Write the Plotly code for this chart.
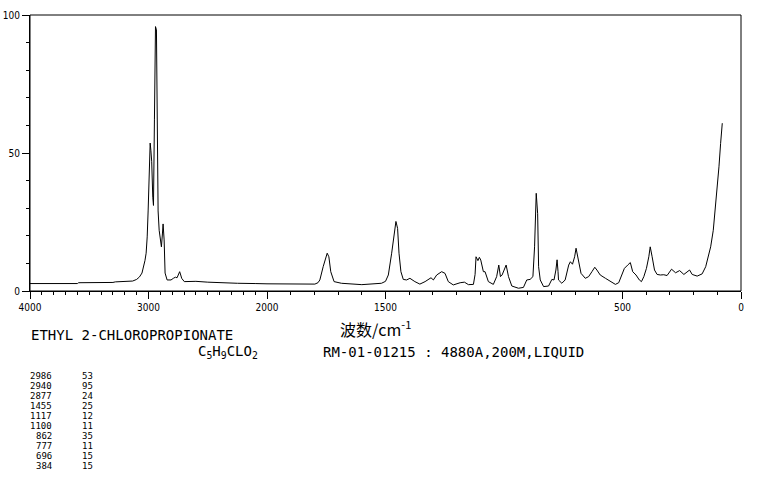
import plotly.graph_objects as go

# Raman spectrum
wavenumber = [4000, 3800, 3600, 3590, 3450, 3300, 3280, 3200, 3134, 3100, 3076, 3055, 3040, 3030,
              3020, 3011, 3003, 2995, 2986, 2980, 2973, 2964, 2958, 2950, 2941, 2933, 2927, 2919,
              2910, 2902, 2891, 2882, 2877, 2868, 2860, 2843, 2810, 2790, 2773, 2759, 2745, 2737,
              2728, 2720, 2698, 2600, 2500, 2400, 2250, 2100, 2000, 1900, 1820, 1798, 1785, 1777,
              1763, 1752, 1746, 1739, 1731, 1717, 1686, 1600, 1540, 1517, 1500, 1488, 1474, 1464,
              1456, 1449, 1443, 1435, 1425, 1411, 1397, 1376, 1355, 1333, 1308, 1298, 1284, 1263,
              1249, 1235, 1214, 1185, 1167, 1150, 1129, 1122, 1118, 1110, 1104, 1098, 1087, 1080,
              1066, 1045, 1031, 1022, 1015, 1008, 995, 991, 981, 967, 939, 918, 904, 890, 878, 871,
              864, 858, 854, 847, 833, 812, 798, 789, 781, 776, 772, 770, 756, 742, 727, 720, 711,
              702, 696, 685, 675, 657, 643, 629, 617, 608, 594, 572, 551, 530, 516, 502, 492, 478,
              467, 457, 443, 429, 420, 410, 399, 389, 383, 375, 365, 354, 340, 326, 312, 293, 276,
              259, 241, 217, 206, 185, 164, 149, 138, 128, 117, 107, 99, 93, 86, 79]
intensity = [2.7, 2.7, 2.7, 3.0, 3.0, 3.1, 3.3, 3.4, 3.6, 4.2, 5.1, 6.5, 8.7, 11.0,
             13.7, 19.6, 29.0, 40.0, 53.6, 51.0, 47.0, 34.0, 31.0, 62.0, 95.8, 94.6, 56.0, 29.0,
             22.0, 18.5, 16.0, 21.0, 24.3, 18.5, 6.5, 4.0, 4.0, 4.6, 5.0, 4.8, 6.0, 7.0,
             5.8, 4.6, 3.4, 3.5, 3.2, 3.0, 2.8, 2.7, 2.6, 2.5, 2.4, 2.5, 3.0, 4.0,
             8.8, 12.5, 13.7, 12.4, 7.0, 3.4, 2.8, 2.3, 2.5, 2.8, 3.5, 5.8, 13.7, 21.0,
             25.2, 22.7, 13.7, 7.0, 4.2, 4.0, 4.6, 3.4, 2.5, 3.4, 4.8, 4.0, 5.8, 7.0,
             6.4, 3.4, 2.2, 3.0, 3.2, 2.3, 2.4, 6.0, 12.4, 11.0, 12.2, 11.2, 7.0, 7.0,
             3.4, 2.4, 5.2, 9.4, 5.2, 5.8, 9.2, 9.4, 5.2, 1.8, 1.0, 1.3, 4.0, 4.2, 5.2, 16.0,
             35.4, 28.0, 8.8, 4.0, 1.6, 1.8, 4.2, 4.0, 7.6, 11.3, 7.0, 4.0, 2.8, 4.0, 9.4, 10.6, 9.7,
             12.4, 15.5, 10.6, 6.4, 4.6, 5.2, 7.0, 8.6, 7.6, 5.8, 4.6, 3.4, 2.4, 3.0, 5.8, 8.2, 9.4,
             10.3, 7.0, 5.8, 4.0, 3.4, 5.2, 8.2, 12.4, 16.0, 12.4, 7.6, 6.0, 5.8, 5.9, 5.6, 7.9, 6.6,
             7.4, 6.0, 7.6, 6.0, 5.4, 6.2, 8.8, 12.4, 16.0, 22.0, 30.5, 39.0, 45.0, 53.5, 60.8]

peak_wn = ['2986', '2940', '2877', '1455', '1117', '1100', '862', '777', '696', '384']
peak_int = ['53', '95', '24', '25', '12', '11', '35', '11', '15', '15']

left_ticks = [4000, 3000]
right_ticks = [2000, 1500, 500, 0]

TICK_FONT = dict(family='Liberation Sans Narrow, DejaVu Sans Condensed, DejaVu Sans Mono', size=10, color='black')
MONO = 'DejaVu Sans Mono'
SPLIT = 1 / 3  # 4000-2000 is drawn at half the scale of 2000-0

fig = go.Figure()

hi = [(w, v) for w, v in zip(wavenumber, intensity) if w >= 2000]
lo = [(w, v) for w, v in zip(wavenumber, intensity) if w <= 2000]
for xa, part in (('x', hi), ('x2', lo)):
    fig.add_trace(go.Scatter(x=[p[0] for p in part], y=[p[1] for p in part], mode='lines',
                             xaxis=xa, yaxis='y', line=dict(color='black', width=1),
                             showlegend=False, hoverinfo='skip'))

# empty traces so the overlay axes (long labelled ticks) get drawn
fig.add_trace(go.Scatter(x=[], y=[], xaxis='x3', yaxis='y', showlegend=False))
fig.add_trace(go.Scatter(x=[], y=[], xaxis='x4', yaxis='y', showlegend=False))

# short ticks every 100 cm-1
base = dict(showgrid=False, zeroline=False, showline=True, linecolor='black', linewidth=1,
            ticks='outside', ticklen=3, tickcolor='black', tickmode='linear', tick0=0, dtick=100,
            showticklabels=False, automargin=False, anchor='y')
# long labelled ticks
over = dict(showgrid=False, zeroline=False, showline=False, ticks='outside', ticklen=7,
            tickcolor='black', tickmode='array', tickfont=TICK_FONT, automargin=False,
            anchor='y', side='bottom')

fig.update_layout(
    xaxis=dict(range=[4000, 2000], domain=[0, SPLIT], **base),
    xaxis2=dict(range=[2000, 0], domain=[SPLIT, 1], **base),
    xaxis3=dict(overlaying='x', range=[4000, 2000], domain=[0, SPLIT], tickvals=left_ticks,
                ticktext=[str(t) for t in left_ticks], **over),
    xaxis4=dict(overlaying='x2', range=[2000, 0], domain=[SPLIT, 1], tickvals=right_ticks,
                ticktext=[str(t) for t in right_ticks], **over),
    yaxis=dict(range=[0, 100], tickmode='linear', tick0=0, dtick=50, showgrid=False,
               zeroline=False, showline=True, linecolor='black', ticks='outside', ticklen=7,
               tickcolor='black', tickfont=TICK_FONT, automargin=False, anchor='x',
               minor=dict(ticks='outside', ticklen=3, tickcolor='black', dtick=10,
                          showgrid=False)),
)

fig.add_shape(type='rect', xref='paper', yref='paper', x0=0, x1=1, y0=0, y1=1,
              line=dict(color='black', width=1))


def py(ypx):
    # page row -> paper y for a plot spanning rows 15..291
    return (291 - ypx) / 276


def px_(xpx):
    return (xpx - 30) / 711


ann = [
    dict(text='波数/cm<sup>-1</sup>', x=px_(375), y=py(328), xanchor='center', yanchor='middle',
         font=dict(family='Noto Sans CJK SC', size=16, color='black')),
    dict(text='ETHYL 2-CHLOROPROPIONATE', x=px_(29), y=py(335), xanchor='left', yanchor='middle',
         font=dict(family=MONO, size=14, color='black')),
    dict(text='C<sub>5</sub>H<sub>9</sub>CLO<sub>2</sub>', x=px_(196), y=py(352), xanchor='left',
         yanchor='middle', font=dict(family=MONO, size=14, color='black')),
    dict(text='RM-01-01215 : 4880A,200M,LIQUID', x=px_(321), y=py(352), xanchor='left',
         yanchor='middle', font=dict(family=MONO, size=14, color='black')),
]
for i, (w, v) in enumerate(zip(peak_wn, peak_int)):
    ann.append(dict(text=w, x=px_(54), y=py(376 + 10 * i), xanchor='right', yanchor='middle',
                    font=dict(family=MONO, size=9, color='black')))
    ann.append(dict(text=v, x=px_(80), y=py(376 + 10 * i), xanchor='left', yanchor='middle',
                    font=dict(family=MONO, size=9, color='black')))
for a in ann:
    a.update(xref='paper', yref='paper', showarrow=False)
fig.update_layout(annotations=ann)

fig.update_layout(width=765, height=482, margin=dict(l=30, r=24, t=15, b=191, autoexpand=False),
                  plot_bgcolor='white', paper_bgcolor='white', showlegend=False)
# drop the browser's default 8px body margin so the figure sits at the page corner
fig.write_html("out.html", config={'displayModeBar': False, 'staticPlot': True},
               post_script="document.body.style.margin='0px';")
